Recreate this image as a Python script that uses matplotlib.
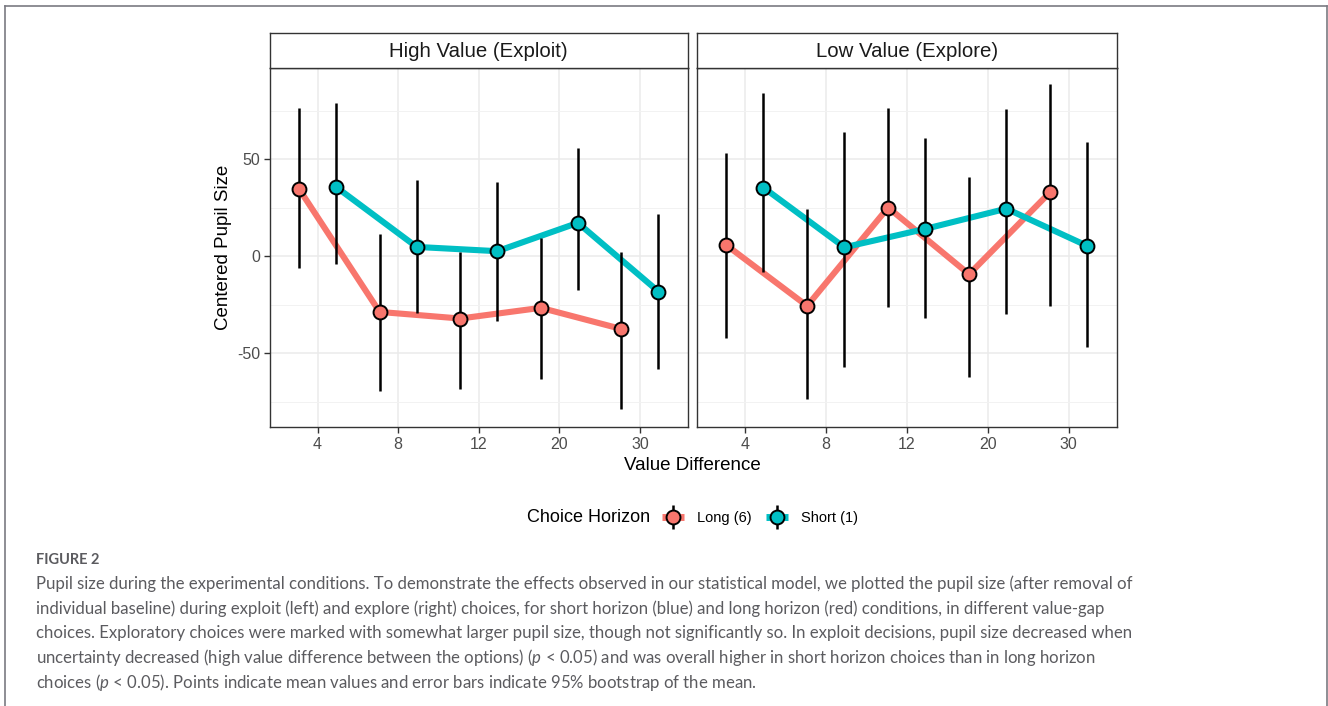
import numpy as np
import matplotlib
matplotlib.use("Agg")
import matplotlib.pyplot as plt
from matplotlib.lines import Line2D

plt.rcParams['font.family'] = ['Liberation Sans', 'DejaVu Sans']
plt.rcParams['axes.unicode_minus'] = False
plt.rcParams['mathtext.fontset'] = 'custom'
plt.rcParams['mathtext.rm'] = 'Lato'
plt.rcParams['mathtext.it'] = 'Lato:italic'

# ---------------- data ----------------
categories = ['4', '8', '12', '20', '30']
panel_titles = ['High Value (Exploit)', 'Low Value (Explore)']
series_labels = ['Long (6)', 'Short (1)']
series_colors = ['#F8766D', '#00BFC4']

long_exploit_mean = [34.7, -28.7, -32.1, -26.6, -37.5]
long_exploit_lo = [-6.2, -69.4, -68.6, -63.2, -78.9]
long_exploit_hi = [76.3, 11.3, 2.4, 9.3, 2.0]
short_exploit_mean = [35.7, 4.8, 2.6, 17.2, -18.2]
short_exploit_lo = [-4.1, -29.1, -33.2, -17.4, -57.9]
short_exploit_hi = [78.9, 39.3, 38.3, 55.7, 21.8]

long_explore_mean = [5.8, -25.6, 25.1, -9.3, 33.0]
long_explore_lo = [-41.9, -73.6, -26.3, -62.2, -25.4]
long_explore_hi = [53.1, 24.5, 76.3, 40.9, 88.7]
short_explore_mean = [35.4, 4.6, 14.1, 24.5, 5.3]
short_explore_lo = [-8.3, -56.9, -31.6, -29.7, -46.9]
short_explore_hi = [84.3, 64.1, 61.1, 75.8, 59.1]

y_ticks = [-50, 0, 50]
y_minor = [-75, -25, 25, 75]

caption_head = "FIGURE 2"
caption_lines = [
    "Pupil size during the experimental conditions. To demonstrate the effects observed in our statistical model, we plotted the pupil size (after removal of",
    "individual baseline) during exploit (left) and explore (right) choices, for short horizon (blue) and long horizon (red) conditions, in different value-gap",
    "choices. Exploratory choices were marked with somewhat larger pupil size, though not significantly so. In exploit decisions, pupil size decreased when",
    r"uncertainty decreased (high value difference between the options) ($\mathit{p}$ < 0.05) and was overall higher in short horizon choices than in long horizon",
    r"choices ($\mathit{p}$ < 0.05). Points indicate mean values and error bars indicate 95% bootstrap of the mean.",
]

panels_data = [
    [(long_exploit_mean, long_exploit_lo, long_exploit_hi),
     (short_exploit_mean, short_exploit_lo, short_exploit_hi)],
    [(long_explore_mean, long_explore_lo, long_explore_hi),
     (short_explore_mean, short_explore_lo, short_explore_hi)],
]

# ---------------- figure ----------------
W, H = 1328, 706
fig = plt.figure(figsize=(W / 100, H / 100), dpi=100)

def fx(px):
    return px / W

def fy(py):
    return 1 - py / H

# outer frame
frame_col = '#7a7a82'
fig.add_artist(Line2D([fx(4.5), fx(4.5)], [fy(6), fy(710)], color=frame_col, lw=1.2))
fig.add_artist(Line2D([fx(4.5), fx(1327)], [fy(6), fy(6)], color=frame_col, lw=1.2))
fig.add_artist(Line2D([fx(1327), fx(1327)], [fy(6), fy(710)], color=frame_col, lw=1.2))

panel_x = [(270, 687.5), (697, 1116.5)]
panel_top, panel_bot, strip_top = 68, 427, 33
dodge = 0.23
xpos = np.arange(len(categories)) + 1
border_col = '#333333'

for pi, (x0, x1) in enumerate(panel_x):
    ax = fig.add_axes([fx(x0), fy(panel_bot), fx(x1 - x0), (panel_bot - panel_top) / H])
    ax.set_xlim(0.41, 5.59)
    ax.set_ylim(-88, 97)
    ax.set_yticks(y_ticks)
    ax.set_yticks(y_minor, minor=True)
    ax.set_xticks(xpos)
    ax.set_xticklabels(categories)
    ax.grid(True, which='major', color='#EBEBEB', lw=1.1)
    ax.grid(True, which='minor', axis='y', color='#F2F2F2', lw=0.7)
    ax.set_axisbelow(True)
    for s in ax.spines.values():
        s.set_color(border_col)
        s.set_linewidth(1.0)
    ax.tick_params(which='major', length=4, color='#333333', width=1.0,
                   labelsize=11.5, labelcolor='#4D4D4D', pad=3)
    ax.tick_params(which='minor', length=0)
    if pi == 1:
        ax.tick_params(axis='y', labelleft=False, length=0)

    # lines
    for si, (m, lo, hi) in enumerate(panels_data[pi]):
        xs = xpos + (-dodge if si == 0 else dodge)
        ax.plot(xs, m, color=series_colors[si], lw=4.4, solid_capstyle='butt', zorder=2)
    # error bars
    for si, (m, lo, hi) in enumerate(panels_data[pi]):
        xs = xpos + (-dodge if si == 0 else dodge)
        ax.vlines(xs, lo, hi, color='black', lw=1.8, zorder=3)
    # points
    for si, (m, lo, hi) in enumerate(panels_data[pi]):
        xs = xpos + (-dodge if si == 0 else dodge)
        ax.plot(xs, m, 'o', ms=10, mfc=series_colors[si], mec='black', mew=1.4,
                ls='None', zorder=4)

    # strip
    sax = fig.add_axes([fx(x0), fy(panel_top), fx(x1 - x0), (panel_top - strip_top) / H])
    sax.set_xticks([])
    sax.set_yticks([])
    for s in sax.spines.values():
        s.set_color(border_col)
        s.set_linewidth(1.0)
    sax.text(0.5, 0.47, panel_titles[pi], ha='center', va='center', fontsize=14.7,
             color='#1A1A1A', transform=sax.transAxes)

# axis titles
fig.text(fx(224), fy(247.5), 'Centered Pupil Size', rotation=90, ha='center', va='center',
         fontsize=13.5, color='black')
fig.text(fx(692), fy(465), 'Value Difference', ha='center', va='center',
         fontsize=13.5, color='black')

# legend
fig.text(fx(527), fy(518), 'Choice Horizon', ha='left', va='center', fontsize=13, color='black')
handles = []
for c in series_colors:
    handles.append((Line2D([], [], color=c, lw=5, solid_capstyle='butt'),
                    Line2D([], [], marker='|', color='black', ms=17, mew=1.8, ls='None'),
                    Line2D([], [], marker='o', ms=10, mfc=c, mec='black', mew=1.4, ls='None')))
fig.legend(handles, series_labels, loc='center left', bbox_to_anchor=(fx(662), fy(518)),
           ncol=2, frameon=False, fontsize=10.5, handlelength=1.5, handletextpad=0.9,
           columnspacing=1.0, borderpad=0, borderaxespad=0)

# caption
cap_col = '#5b5b5f'
fig.text(fx(36), fy(560), caption_head, ha='left', va='center', fontsize=10.5,
         fontweight='bold', color=cap_col, family='Lato')
for i, line in enumerate(caption_lines):
    fig.text(fx(36), fy(584 + 24.6 * i), line, ha='left', va='center', fontsize=12.1,
             color=cap_col, family='Lato')

fig.savefig('out.png', dpi=100)
